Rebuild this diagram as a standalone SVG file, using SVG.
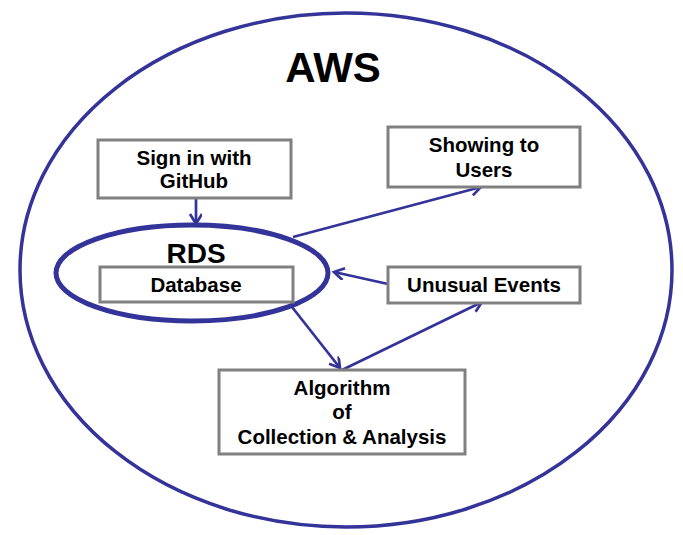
<svg xmlns="http://www.w3.org/2000/svg" width="683" height="535" viewBox="0 0 683 535">
<style>
.box{fill:#fff;stroke:#808080;stroke-width:3}
.t{font-family:"Liberation Sans",Arial,sans-serif;font-weight:bold;font-size:20.5px;fill:#000;text-anchor:middle}
.c{stroke:#333399;stroke-width:2.7;fill:none;marker-end:url(#ah)}
</style>
<defs>
<marker id="ah" markerWidth="14" markerHeight="14" refX="11" refY="6" orient="auto" markerUnits="userSpaceOnUse">
<path d="M1,0 L11,6 L1,12" fill="none" stroke="#333399" stroke-width="2.7"/>
</marker>
</defs>
<rect width="683" height="535" fill="#fff"/>
<g id="aws">
<ellipse cx="346" cy="270" rx="326" ry="257" fill="none" stroke="#333399" stroke-width="3.5"/>
<text class="t" x="333" y="82" style="font-size:42px">AWS</text>
</g>
<g id="connectors">
<line class="c" x1="196" y1="199" x2="196" y2="224"/>
<line class="c" x1="293" y1="237" x2="481" y2="187"/>
<line class="c" x1="388" y1="284" x2="334" y2="272"/>
<line class="c" x1="292" y1="307" x2="340" y2="368"/>
<line class="c" x1="342" y1="370" x2="482" y2="302"/>
</g>
<g id="signin">
<rect class="box" x="98" y="140" width="193" height="58"/>
<text class="t" x="194" y="165">Sign in with</text>
<text class="t" x="194" y="188">GitHub</text>
</g>
<g id="rds">
<ellipse cx="192" cy="273" rx="136" ry="48" fill="none" stroke="#333399" stroke-width="5"/>
<text class="t" x="196" y="263" style="font-size:28px">RDS</text>
</g>
<g id="database">
<rect class="box" x="100" y="267" width="193" height="35"/>
<text class="t" x="196" y="292">Database</text>
</g>
<g id="showing">
<rect class="box" x="388" y="127" width="192" height="60"/>
<text class="t" x="484" y="152">Showing to</text>
<text class="t" x="484" y="177">Users</text>
</g>
<g id="unusual">
<rect class="box" x="388" y="267" width="192" height="36"/>
<text class="t" x="484" y="292">Unusual Events</text>
</g>
<g id="algorithm">
<rect class="box" x="219" y="370" width="246" height="84"/>
<text class="t" x="342" y="395">Algorithm</text>
<text class="t" x="342" y="419">of</text>
<text class="t" x="342" y="444">Collection &amp; Analysis</text>
</g>
</svg>
